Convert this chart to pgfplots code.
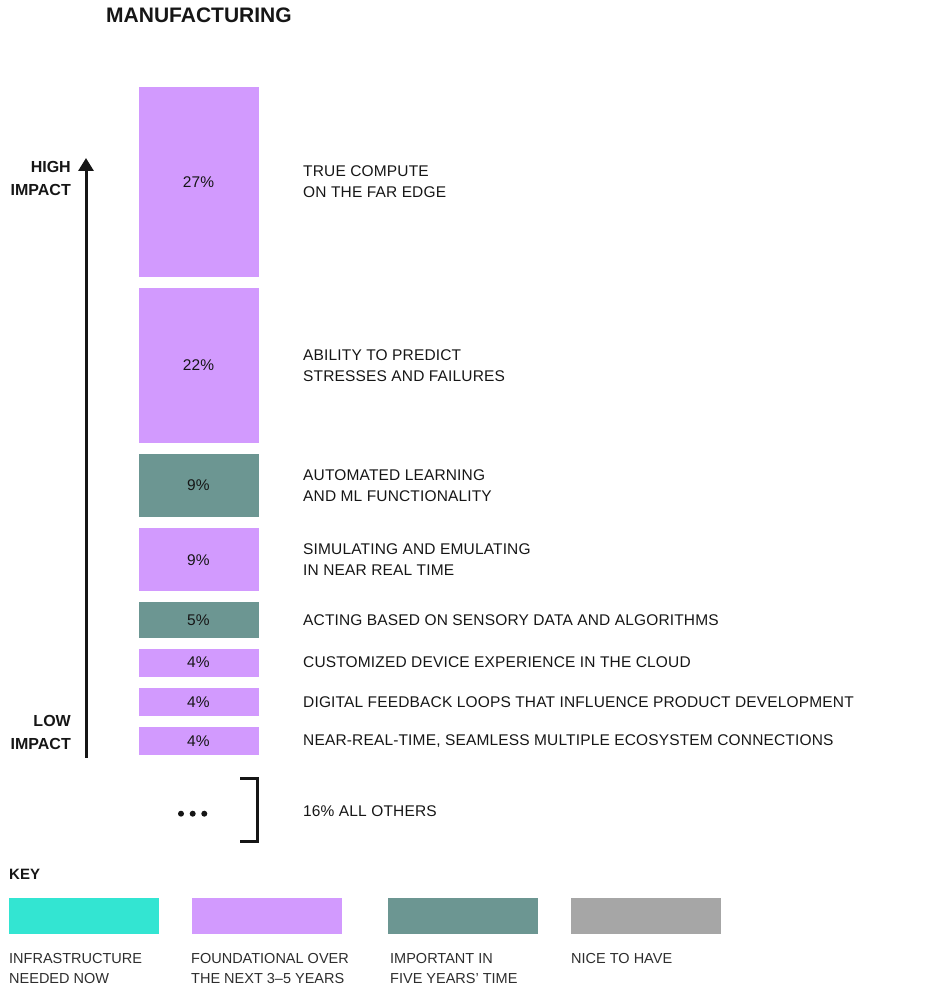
\documentclass[border=0pt]{standalone}
\usepackage{pgfplots}
\pgfplotsset{compat=1.18}
\usepackage{fontspec}
\setmainfont{Liberation Sans}
\newfontfamily\lab[LetterSpace=1.0]{Liberation Sans}
\usetikzlibrary{arrows.meta}
\definecolor{found}{RGB}{210,154,254}
\definecolor{imp}{RGB}{108,150,146}
\definecolor{infra}{RGB}{51,229,210}
\definecolor{nice}{RGB}{166,166,166}
\definecolor{ink}{RGB}{22,22,22}
\definecolor{keyink}{RGB}{45,45,45}
\tikzset{
  lbl/.style={anchor=west, align=left, inner sep=0pt, text=ink, font=\lab\fontsize{15.5}{21}\selectfont},
  pct/.style={text=ink, font=\lab\fontsize{15.5}{18}\selectfont},
  keytxt/.style={anchor=north west, align=left, text=keyink, inner sep=0pt, font=\fontsize{14.5}{20}\selectfont},
  impact/.style={anchor=east, align=right, inner sep=0pt, text=ink, font=\bfseries\fontsize{16}{23}\selectfont},
}
% 1 unit on y = 7.0357 px, gap between segments = 1.5635 units
\newcommand\G{1.5635}
\begin{document}
\begin{tikzpicture}
\begin{axis}[
  scale only axis, width=925pt, height=1002pt,
  xmin=0, xmax=925, ymin=-35.107, ymax=107.31,
  axis lines=none, clip=false,
  ybar stacked, bar width=120,
]
% whole page
\path (rel axis cs:0,0) rectangle (rel axis cs:1,1);
% bottom to top
\addplot[fill=found, draw=none] coordinates {(198.5,4)};
\addplot[fill=none, draw=none] coordinates {(198.5,\G)};
\addplot[fill=found, draw=none] coordinates {(198.5,4)};
\addplot[fill=none, draw=none] coordinates {(198.5,\G)};
\addplot[fill=found, draw=none] coordinates {(198.5,4)};
\addplot[fill=none, draw=none] coordinates {(198.5,\G)};
\addplot[fill=imp, draw=none] coordinates {(198.5,5)};
\addplot[fill=none, draw=none] coordinates {(198.5,\G)};
\addplot[fill=found, draw=none] coordinates {(198.5,9)};
\addplot[fill=none, draw=none] coordinates {(198.5,\G)};
\addplot[fill=imp, draw=none] coordinates {(198.5,9)};
\addplot[fill=none, draw=none] coordinates {(198.5,\G)};
\addplot[fill=found, draw=none] coordinates {(198.5,22)};
\addplot[fill=none, draw=none] coordinates {(198.5,\G)};
\addplot[fill=found, draw=none] coordinates {(198.5,27)};

% centres of the segments, for the percentages
\coordinate (s1) at (axis cs:198.5,2);
\coordinate (s2) at (axis cs:198.5,7.5635);
\coordinate (s3) at (axis cs:198.5,13.127);
\coordinate (s4) at (axis cs:198.5,19.19);
\coordinate (s5) at (axis cs:198.5,27.754);
\coordinate (s6) at (axis cs:198.5,38.3175);
\coordinate (s7) at (axis cs:198.5,55.381);
\coordinate (s8) at (axis cs:198.5,81.4445);

% labels
\node[lbl] at (axis cs:303,2) {NEAR-REAL-TIME, SEAMLESS MULTIPLE ECOSYSTEM CONNECTIONS};
\node[lbl] at (axis cs:303,7.5635) {DIGITAL FEEDBACK LOOPS THAT INFLUENCE PRODUCT DEVELOPMENT};
\node[lbl] at (axis cs:303,13.127) {CUSTOMIZED DEVICE EXPERIENCE IN THE CLOUD};
\node[lbl] at (axis cs:303,19.19) {ACTING BASED ON SENSORY DATA AND ALGORITHMS};
\node[lbl] at (axis cs:303,27.754) {SIMULATING AND EMULATING\\IN NEAR REAL TIME};
\node[lbl] at (axis cs:303,38.3175) {AUTOMATED LEARNING\\AND ML FUNCTIONALITY};
\node[lbl] at (axis cs:303,55.381) {ABILITY TO PREDICT\\STRESSES AND FAILURES};
\node[lbl] at (axis cs:303,81.4445) {TRUE COMPUTE\\ON THE FAR EDGE};

% title
\node[anchor=west, inner sep=0pt, text=ink, font=\bfseries\fontsize{21}{24}\selectfont] at (axis cs:106,{(755-15)/7.0357}) {MANUFACTURING};

% impact arrow
\draw[ink, line width=3pt, -{Triangle[length=13pt,width=15pt]}]
  (axis cs:86,{(755-758)/7.0357}) -- (axis cs:86,{(755-158)/7.0357});
\node[impact] at (axis cs:71,{(755-178.5)/7.0357}) {HIGH\\IMPACT};
\node[impact] at (axis cs:71,{(755-732)/7.0357}) {LOW\\IMPACT};

% all others
\fill[ink] (axis cs:181,{(755-813.7)/7.0357}) circle[radius=3pt];
\fill[ink] (axis cs:192.7,{(755-813.7)/7.0357}) circle[radius=3pt];
\fill[ink] (axis cs:204.3,{(755-813.7)/7.0357}) circle[radius=3pt];
\draw[ink, line width=3pt] (axis cs:240,{(755-778.5)/7.0357}) -- (axis cs:257.5,{(755-778.5)/7.0357})
  -- (axis cs:257.5,{(755-842)/7.0357}) -- (axis cs:240,{(755-842)/7.0357});
\node[lbl] at (axis cs:303,{(755-811)/7.0357}) {16\% ALL OTHERS};

% key
\node[anchor=west, inner sep=0pt, text=ink, font=\bfseries\fontsize{15}{18}\selectfont] at (axis cs:9,{(755-874)/7.0357}) {KEY};
\fill[infra] (axis cs:9,{(755-898)/7.0357}) rectangle (axis cs:159,{(755-934)/7.0357});
\fill[found] (axis cs:192,{(755-898)/7.0357}) rectangle (axis cs:342,{(755-934)/7.0357});
\fill[imp] (axis cs:388,{(755-898)/7.0357}) rectangle (axis cs:538,{(755-934)/7.0357});
\fill[nice] (axis cs:571,{(755-898)/7.0357}) rectangle (axis cs:721,{(755-934)/7.0357});
\node[keytxt] at (axis cs:9,{(755-953)/7.0357}) {INFRASTRUCTURE\\NEEDED NOW};
\node[keytxt] at (axis cs:191,{(755-953)/7.0357}) {FOUNDATIONAL OVER\\THE NEXT 3--5 YEARS};
\node[keytxt] at (axis cs:390,{(755-953)/7.0357}) {IMPORTANT IN\\FIVE YEARS’ TIME};
\node[keytxt] at (axis cs:571,{(755-953)/7.0357}) {NICE TO HAVE};
\end{axis}
\node[pct] at (s1) {4\%};
\node[pct] at (s2) {4\%};
\node[pct] at (s3) {4\%};
\node[pct] at (s4) {5\%};
\node[pct] at (s5) {9\%};
\node[pct] at (s6) {9\%};
\node[pct] at (s7) {22\%};
\node[pct] at (s8) {27\%};
\end{tikzpicture}
\end{document}
